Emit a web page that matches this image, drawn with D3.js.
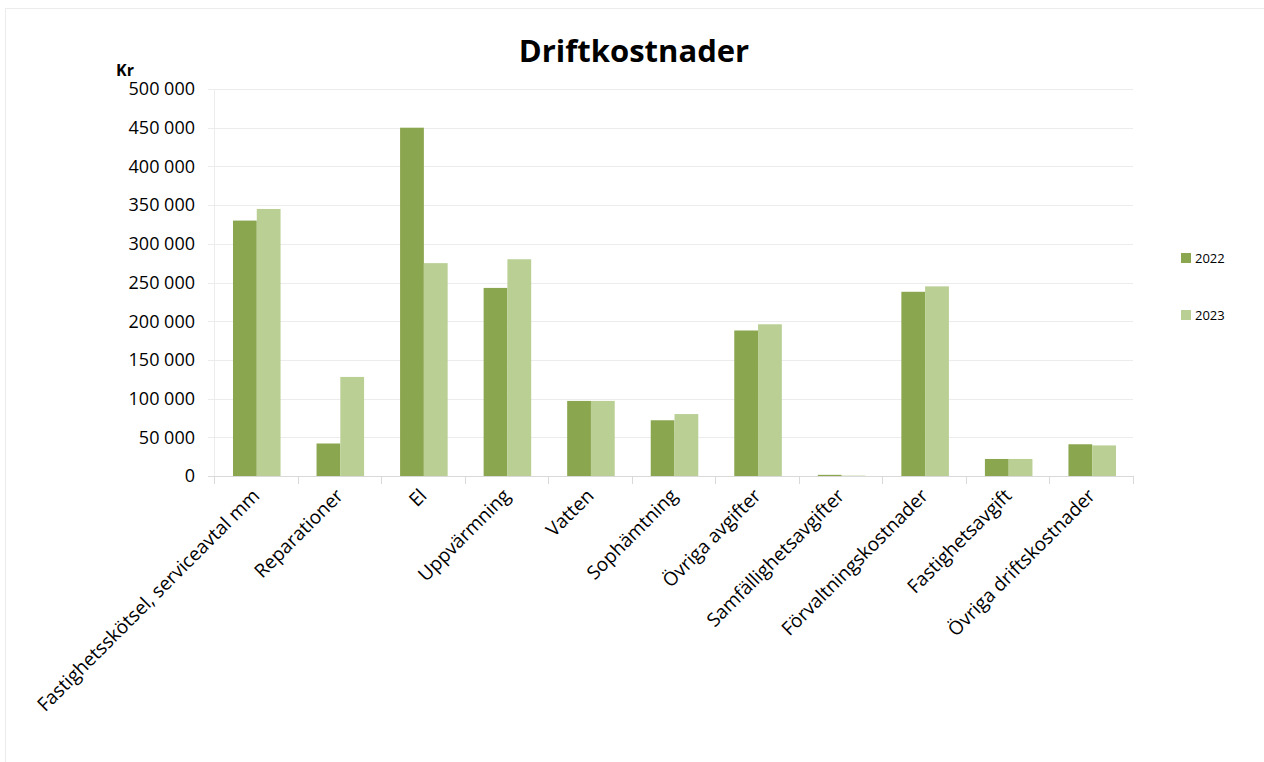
<!DOCTYPE html>
<html>
<head>
<meta charset="utf-8">
<script src="https://cdn.jsdelivr.net/npm/d3@7"></script>
<style>
  body { margin: 0; background: #fff; }
  svg { display: block; font-family: "Open Sans", sans-serif; }
</style>
</head>
<body>
<svg width="1264" height="762"></svg>
<script>
const categories = ["Fastighetsskötsel, serviceavtal mm", "Reparationer", "El", "Uppvärmning",
  "Vatten", "Sophämtning", "Övriga avgifter", "Samfällighetsavgifter",
  "Förvaltningskostnader", "Fastighetsavgift", "Övriga driftskostnader"];
const years = ["2022", "2023"];
const values2022 = [330000, 42000, 450000, 243000, 97000, 72000, 188000, 1500, 238000, 22000, 41000];
const values2023 = [345000, 128000, 275000, 280000, 97000, 80000, 196000, 500, 245000, 22000, 39500];
const yTicks = [0, 50000, 100000, 150000, 200000, 250000, 300000, 350000, 400000, 450000, 500000];
const colors = ["#8aa64e", "#b9cf93"];

const svg = d3.select("svg");
const m = {left: 214, right: 1133, top: 89, bottom: 476};

// outer frame
svg.append("rect").attr("x", 5.5).attr("y", 8.5).attr("width", 1270).attr("height", 770)
  .attr("fill", "none").attr("stroke", "#ececec");

let x = d3.scaleBand().domain(categories).range([m.left, m.right]);
let xi = d3.scaleBand().domain(years).range([19, x.bandwidth() - 17]).padding(0);
let y = d3.scaleLinear().domain([0, 500000]).range([m.bottom, m.top]);

// gridlines
svg.append("g").selectAll("line").data(yTicks).enter().append("line")
  .attr("x1", m.left - 6).attr("x2", m.right)
  .attr("y1", d => Math.round(y(d)) + 0.5).attr("y2", d => Math.round(y(d)) + 0.5)
  .attr("stroke", d => d === 0 ? "#d9d9d9" : "#ececec");
svg.append("line").attr("x1", m.left + 0.5).attr("x2", m.left + 0.5)
  .attr("y1", m.top).attr("y2", m.bottom).attr("stroke", "#ececec");

// y tick labels
let fmt = v => d3.format(",")(v).replace(/,/g, " ");
svg.append("g").selectAll("text").data(yTicks).enter().append("text")
  .attr("x", 195).attr("y", d => y(d)).attr("dy", "0.35em")
  .attr("text-anchor", "end").attr("font-size", 18).attr("fill", "#000")
  .text(d => fmt(d));

svg.append("text").attr("x", 116).attr("y", 76).attr("font-size", 16)
  .attr("font-weight", "bold").text("Kr");

// category ticks
let bounds = categories.map(c => x(c)).concat([m.right]);
svg.append("g").selectAll("line").data(bounds).enter().append("line")
  .attr("x1", d => Math.round(d) + 0.5).attr("x2", d => Math.round(d) + 0.5)
  .attr("y1", m.bottom).attr("y2", m.bottom + 8).attr("stroke", "#d9d9d9");

// bars
let rows = categories.map((c, i) => ({c: c, vals: [values2022[i], values2023[i]]}));
let groups = svg.append("g").selectAll("g").data(rows).enter().append("g")
  .attr("transform", d => `translate(${x(d.c)},0)`);
groups.selectAll("rect").data(d => d.vals.map((v, j) => ({year: years[j], v: v, j: j})))
  .enter().append("rect")
  .attr("x", d => xi(d.year)).attr("width", xi.bandwidth())
  .attr("y", d => y(d.v)).attr("height", d => m.bottom - y(d.v))
  .attr("fill", d => colors[d.j]);

// x labels
svg.append("g").selectAll("text").data(categories).enter().append("text")
  .attr("transform", d => `translate(${x(d) + x.bandwidth() / 2 + 5},${m.bottom + 21}) rotate(-45)`)
  .attr("text-anchor", "end").attr("font-size", 19).text(d => d);

// title
svg.append("text").attr("x", 634).attr("y", 62).attr("text-anchor", "middle")
  .attr("font-size", 31).attr("font-weight", "bold").text("Driftkostnader");

// legend
let leg = svg.append("g").selectAll("g").data(years).enter().append("g")
  .attr("transform", (d, i) => `translate(1181,${253 + i * 57})`);
leg.append("rect").attr("width", 10).attr("height", 10).attr("fill", (d, i) => colors[i]);
leg.append("text").attr("x", 14).attr("y", 5).attr("dy", "0.35em")
  .attr("font-size", 13).text(d => d);
</script>
</body>
</html>
